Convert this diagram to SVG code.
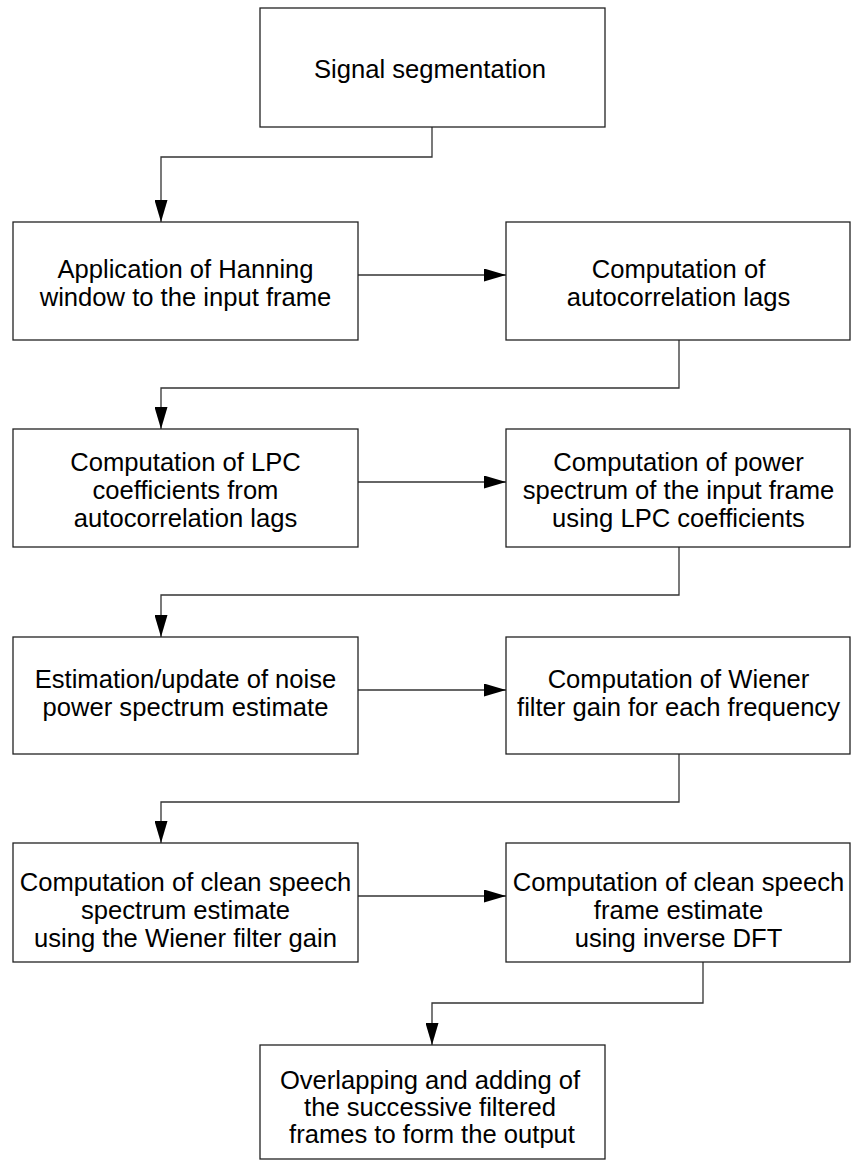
<svg xmlns="http://www.w3.org/2000/svg" width="851" height="1160" viewBox="0 0 851 1160">
<style>
.box{fill:#fff;stroke:#222;stroke-width:1.3}
.t{font-family:"Liberation Sans",Arial,sans-serif;font-size:25.6px;fill:#000;text-anchor:middle}
.w{font-size:25.6px}
.c{fill:none;stroke:#333;stroke-width:1.3}
</style>
<defs>
<marker id="ah" viewBox="0 0 22 13" refX="22" refY="6.5" markerWidth="22" markerHeight="13" markerUnits="userSpaceOnUse" orient="auto">
<path d="M0,0 L22,6.5 L0,13 Z" fill="#000"/>
</marker>
</defs>
<rect width="851" height="1160" fill="#fff"/>
<g id="connectors">
<path class="c" d="M432,127 V157 H161 V222" marker-end="url(#ah)"/>
<path class="c" d="M358,275 H506" marker-end="url(#ah)"/>
<path class="c" d="M679,340 V388 H161 V429" marker-end="url(#ah)"/>
<path class="c" d="M358,482 H506" marker-end="url(#ah)"/>
<path class="c" d="M679,547 V595 H161 V637" marker-end="url(#ah)"/>
<path class="c" d="M358,690 H506" marker-end="url(#ah)"/>
<path class="c" d="M679,754 V802 H161 V843" marker-end="url(#ah)"/>
<path class="c" d="M358,896 H506" marker-end="url(#ah)"/>
<path class="c" d="M703,962 V1003 H432 V1045" marker-end="url(#ah)"/>
</g>
<g id="n1"><rect class="box" x="260" y="8" width="345" height="119"/><text class="t w" x="430" y="78">Signal segmentation</text></g>
<g id="n2"><rect class="box" x="13" y="222" width="345" height="118"/><text class="t" x="185.5" y="278">Application of Hanning</text><text class="t" x="185.5" y="306">window to the input frame</text></g>
<g id="n3"><rect class="box" x="506" y="222" width="344" height="118"/><text class="t" x="678.5" y="278">Computation of</text><text class="t" x="678.5" y="306">autocorrelation lags</text></g>
<g id="n4"><rect class="box" x="13" y="429" width="345" height="118"/><text class="t" x="185.5" y="471">Computation of LPC</text><text class="t" x="185.5" y="499">coefficients from</text><text class="t" x="185.5" y="527">autocorrelation lags</text></g>
<g id="n5"><rect class="box" x="506" y="429" width="344" height="118"/><text class="t" x="678.5" y="471">Computation of power</text><text class="t" x="678.5" y="499">spectrum of the input frame</text><text class="t" x="678.5" y="527">using LPC coefficients</text></g>
<g id="n6"><rect class="box" x="13" y="637" width="345" height="117"/><text class="t" x="185.5" y="688">Estimation/update of noise</text><text class="t" x="185.5" y="716">power spectrum estimate</text></g>
<g id="n7"><rect class="box" x="506" y="637" width="344" height="117"/><text class="t" x="678.5" y="688">Computation of Wiener</text><text class="t" x="678.5" y="716">filter gain for each frequency</text></g>
<g id="n8"><rect class="box" x="13" y="843" width="345" height="119"/><text class="t" x="185.5" y="891">Computation of clean speech</text><text class="t" x="185.5" y="919">spectrum estimate</text><text class="t" x="185.5" y="947">using the Wiener filter gain</text></g>
<g id="n9"><rect class="box" x="506" y="843" width="344" height="119"/><text class="t" x="678.5" y="891">Computation of clean speech</text><text class="t" x="678.5" y="919">frame estimate</text><text class="t" x="678.5" y="947">using inverse DFT</text></g>
<g id="n10"><rect class="box" x="260" y="1045" width="345" height="114"/><text class="t w" x="430" y="1089">Overlapping and adding of</text><text class="t w" x="430" y="1116">the successive filtered</text><text class="t w" x="432" y="1143">frames to form the output</text></g>
</svg>
